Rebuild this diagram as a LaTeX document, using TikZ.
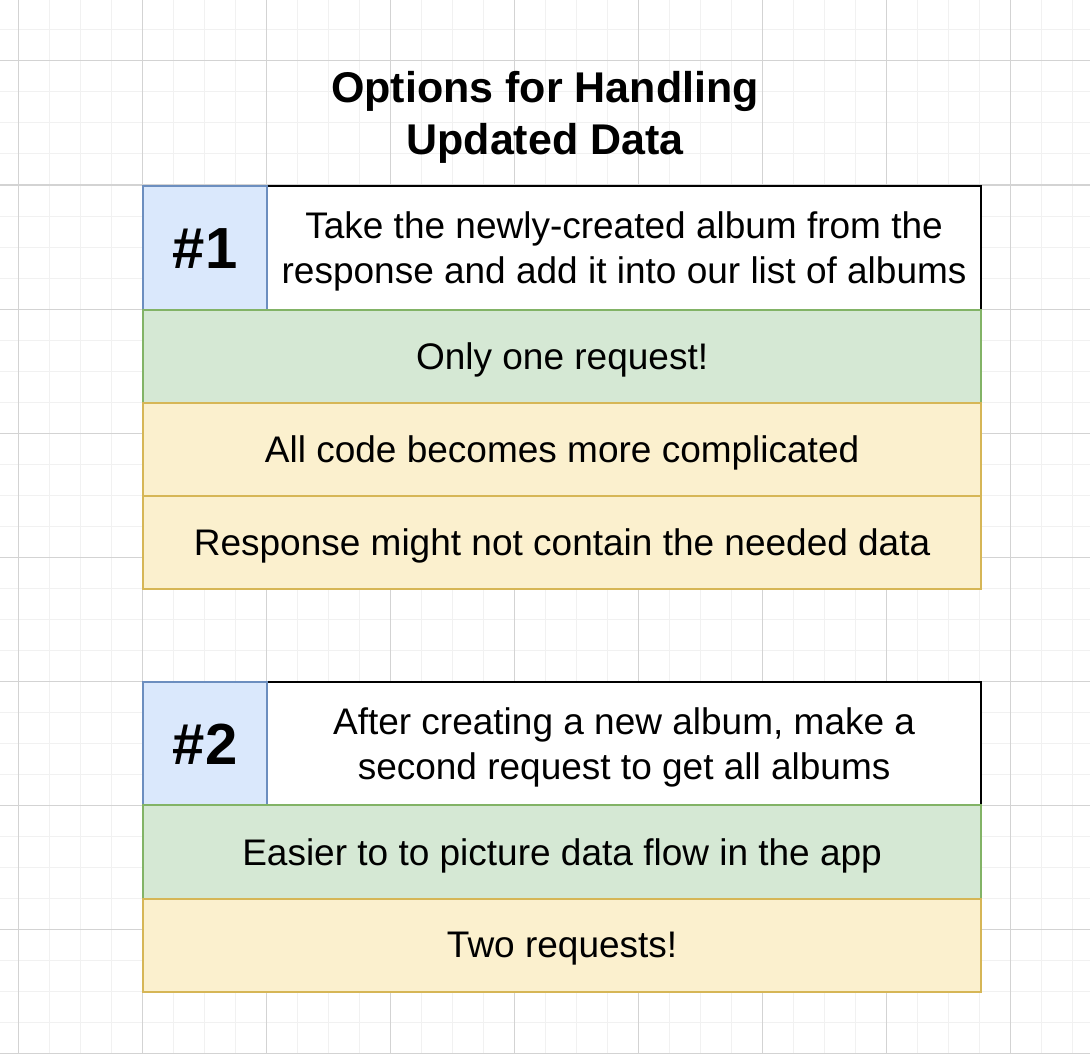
\documentclass[tikz,border=0pt]{standalone}
\usepackage{fontspec}
\setmainfont{Liberation Sans}
\definecolor{gridmajor}{HTML}{D3D3D3}
\definecolor{gridminor}{HTML}{F1F1F1}
\definecolor{bluefill}{HTML}{DAE8FC}
\definecolor{bluedraw}{HTML}{6C8EBF}
\definecolor{greenfill}{HTML}{D5E8D4}
\definecolor{greendraw}{HTML}{82B366}
\definecolor{yellowfill}{HTML}{FBF0CE}
\definecolor{yellowdraw}{HTML}{D6B656}
\begin{document}
\begin{tikzpicture}[x=1pt,y=-1pt,
  minorline/.style={draw=gridminor,line width=1pt},
  majorline/.style={draw=gridmajor,line width=1pt},
  cell/.style={anchor=north west,inner sep=0pt,line width=2.2pt},
  celltext/.style={inner sep=0pt,align=center,yshift=-3.5pt,
    font=\fontsize{37}{44.4}\selectfont},
  numbox/.style={cell,fill=bluefill,draw=bluedraw,minimum width=124pt,minimum height=124pt},
  numtext/.style={inner sep=0pt,font=\fontsize{58}{60}\selectfont\bfseries},
  descbox/.style={cell,fill=white,draw=black,minimum width=714pt,minimum height=124pt},
  probox/.style={cell,fill=greenfill,draw=greendraw,minimum width=838pt,minimum height=93pt},
  conbox/.style={cell,fill=yellowfill,draw=yellowdraw,minimum width=838pt,minimum height=93pt},
  titletext/.style={align=center,inner sep=0pt,font=\fontsize{43}{52}\selectfont\bfseries}]
\useasboundingbox[fill=white] (0,0) rectangle (1090,1054);
% grid
\foreach \i in {0,...,36}{
  \draw[minorline] ({-13+31*\i},0) -- ({-13+31*\i},1054);
  \draw[minorline] (0,{-1+31*\i}) -- (1090,{-1+31*\i});
}
\foreach \i in {0,...,8}{
  \draw[majorline] ({18+124*\i},0) -- ({18+124*\i},1054);
  \draw[majorline] (0,{61+124*\i}) -- (1090,{61+124*\i});
}
% title
\node[titletext] (title) at (545,117) {Options for Handling\\Updated Data};
% option 1
\node[descbox] (d1) at (266,185) {};
\node[numbox] (n1) at (142,185) {};
\node[probox] (p1) at (142,309) {};
\node[conbox] (c1a) at (142,402) {};
\node[conbox] (c1b) at (142,495) {};
\node[numtext] (n1t) at (n1.center) {\#1};
\node[celltext] (d1t) at (d1.center) {Take the newly-created album from the\\response and add it into our list of albums};
\node[celltext] (p1t) at (p1.center) {Only one request!};
\node[celltext] (c1at) at (c1a.center) {All code becomes more complicated};
\node[celltext] (c1bt) at (c1b.center) {Response might not contain the needed data};
% option 2
\node[descbox] (d2) at (266,681) {};
\node[numbox] (n2) at (142,681) {};
\node[probox,minimum height=94pt] (p2) at (142,804) {};
\node[conbox] (c2) at (142,898) {};
\node[numtext] (n2t) at (n2.center) {\#2};
\node[celltext] (d2t) at (d2.center) {After creating a new album, make a\\second request to get all albums};
\node[celltext] (p2t) at (p2.center) {Easier to to picture data flow in the app};
\node[celltext] (c2t) at (c2.center) {Two requests!};
\end{tikzpicture}
\end{document}
